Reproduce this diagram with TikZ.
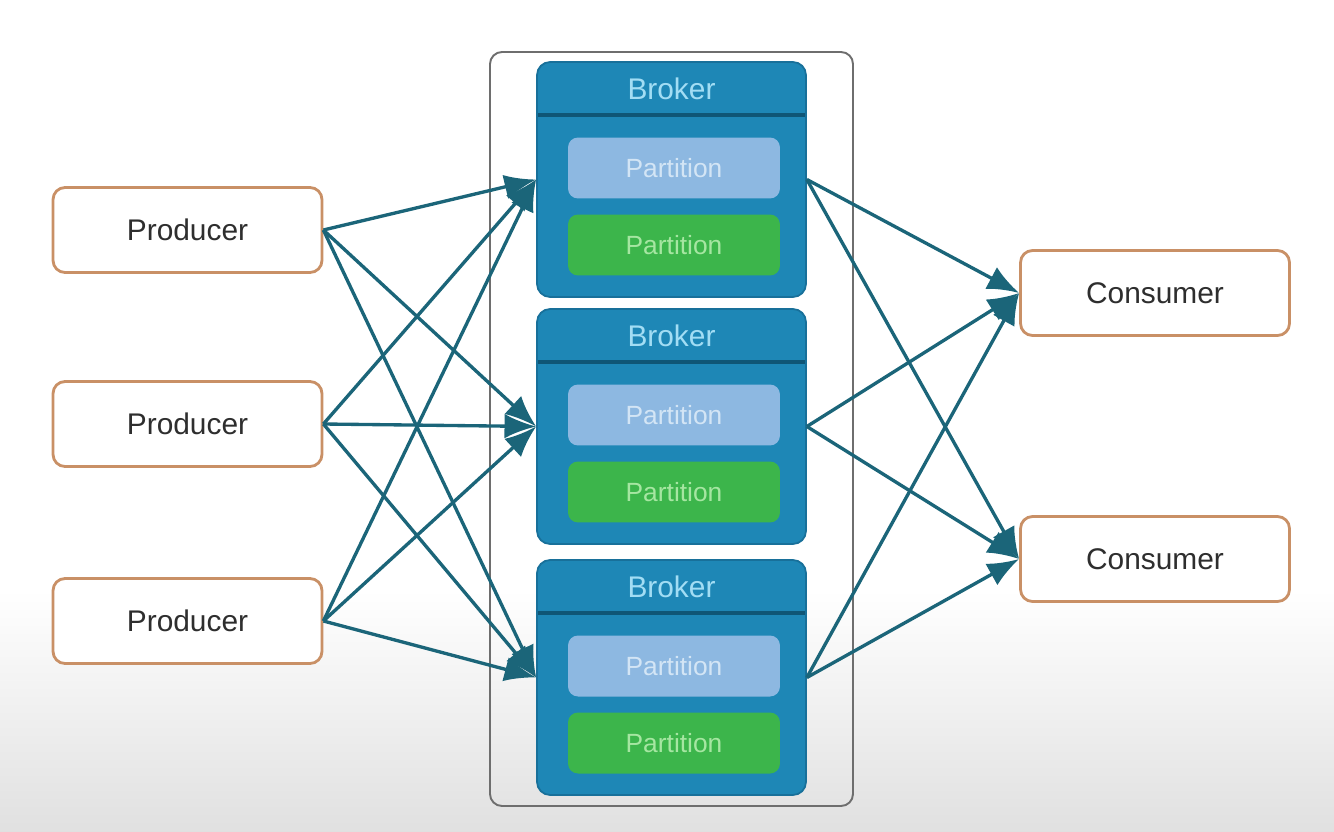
\documentclass[tikz,border=0pt]{standalone}
\usepackage{fontspec}
\setmainfont{Liberation Sans}
\usetikzlibrary{arrows.meta}

\definecolor{ClientEdge}{HTML}{C99066}
\definecolor{ClientText}{HTML}{2E2E2E}
\definecolor{BrokerBlue}{HTML}{1E87B6}
\definecolor{BrokerEdge}{HTML}{18709A}
\definecolor{BrokerText}{HTML}{A2DDF4}
\definecolor{HeaderLine}{HTML}{0F5676}
\definecolor{PartLight}{HTML}{8DB8E1}
\definecolor{PartLightText}{HTML}{D3E5F5}
\definecolor{PartGreen}{HTML}{3CB54B}
\definecolor{PartGreenText}{HTML}{A6E6A2}
\definecolor{FeedTeal}{HTML}{1B6579}
\definecolor{ClusterEdge}{HTML}{6E6E6E}

% one broker: name, top edge (px)
\newcommand{\BrokerBox}[2]{%
	\node[broker] (#1) at (671.5, #2+117.5) {};
	\node[brokerlabel] (#1title) at (671.5, #2+27) {Broker};
	\draw[headerline] (538, #2+53) -- (805, #2+53);
	\node[partition, fill=PartLight, text=PartLightText] (#1top) at (674, #2+106) {Partition};
	\node[partition, fill=PartGreen, text=PartGreenText] (#1bottom) at (674, #2+183) {Partition};
}

\begin{document}
\begin{tikzpicture}
	[x=0.02cm, y=-0.02cm,
	client/.style={draw=ClientEdge, fill=white, line width=1.6pt,
		rounded corners=0.24cm, minimum width=5.38cm, minimum height=1.7cm,
		text=ClientText, font=\fontsize{17}{20}\selectfont},
	broker/.style={draw=BrokerEdge, fill=BrokerBlue, line width=1pt,
		rounded corners=0.26cm, minimum width=5.38cm, minimum height=4.7cm},
	brokerlabel/.style={text=BrokerText, font=\fontsize{17}{20}\selectfont},
	headerline/.style={HeaderLine, line width=2.2pt},
	partition/.style={rounded corners=0.2cm, minimum width=4.24cm,
		minimum height=1.22cm, font=\fontsize{15}{18}\selectfont},
	feed/.style={FeedTeal, line width=1.9pt, -{Latex[length=18pt,width=14pt]}}]

\useasboundingbox (0, 0) rectangle (1334, 831);

\def\ProdX{187.5}
\def\ConsX{1155}

% Screen fade at the bottom
\fill[top color=white, bottom color=black!12, draw=none]
	(0, 590) rectangle (1334, 831);

% Cluster frame
\draw[ClusterEdge, line width=1.1pt, rounded corners=0.24cm]
	(490, 52) rectangle (853, 806);

% Brokers
\BrokerBox{broker1}{62}
\BrokerBox{broker2}{309}
\BrokerBox{broker3}{560}

% Producers and consumers
\node[client] (producer1) at (\ProdX, 230) {Producer};
\node[client] (producer2) at (\ProdX, 424) {Producer};
\node[client] (producer3) at (\ProdX, 621) {Producer};

\node[client] (consumer1) at (\ConsX, 293) {Consumer};
\node[client] (consumer2) at (\ConsX, 559) {Consumer};

% Producer -> broker
\draw[feed] (producer1.east) -- (broker1.west);
\draw[feed] (producer1.east) -- (broker2.west);
\draw[feed] (producer1.east) -- (broker3.west);
\draw[feed] (producer2.east) -- (broker1.west);
\draw[feed] (producer2.east) -- (broker2.west);
\draw[feed] (producer2.east) -- (broker3.west);
\draw[feed] (producer3.east) -- (broker1.west);
\draw[feed] (producer3.east) -- (broker2.west);
\draw[feed] (producer3.east) -- (broker3.west);

% Broker -> consumer
\draw[feed] (broker1.east) -- (consumer1.west);
\draw[feed] (broker1.east) -- (consumer2.west);
\draw[feed] (broker2.east) -- (consumer1.west);
\draw[feed] (broker2.east) -- (consumer2.west);
\draw[feed] (broker3.east) -- (consumer1.west);
\draw[feed] (broker3.east) -- (consumer2.west);

\end{tikzpicture}
\end{document}
